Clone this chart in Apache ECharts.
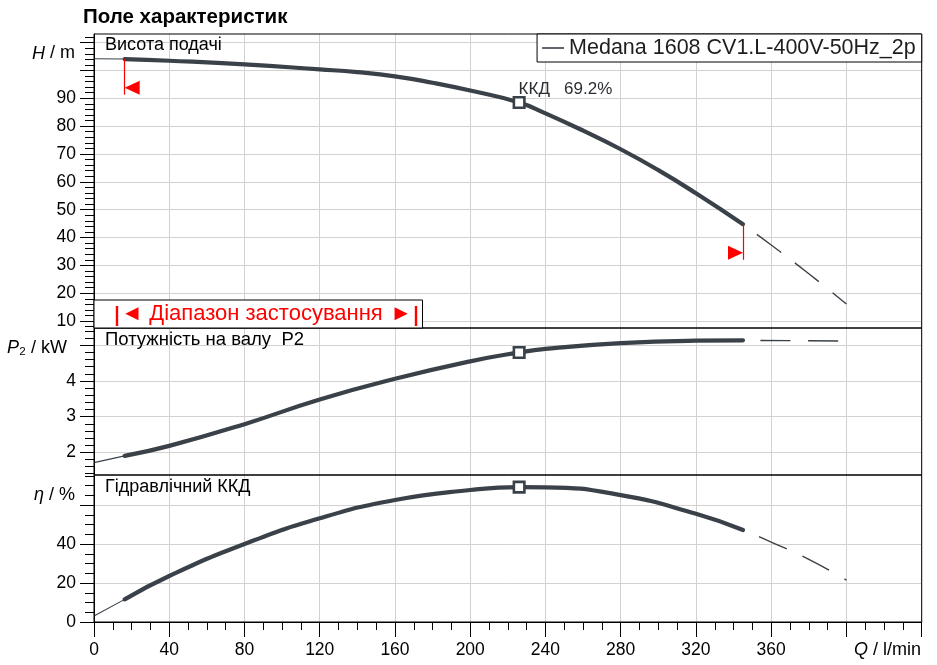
<!DOCTYPE html>
<html>
<head>
<meta charset="utf-8">
<script src="https://cdn.jsdelivr.net/npm/echarts@6/dist/echarts.min.js"></script>
<style>
html,body{margin:0;padding:0;background:#fff;}
#chart{width:937px;height:665px;}
</style>
</head>
<body>
<div id="chart"></div>
<script>
// ---------------- data ----------------
const chartTitle = 'Поле характеристик';
const pumpName = 'Medana 1608 CV1.L-400V-50Hz_2p';
const panelTitles = ['Висота подачі', 'Потужність на валу  P2', 'Гідравлічний ККД'];
const rangeText = 'Діапазон застосування';

// Q-H (head, m) – solid part = application range
const headQ = [16.3, 40, 80, 120, 140, 160, 180, 200, 226, 240, 260, 280, 300, 320, 345];
const headH = [104.1, 103.5, 102.2, 100.4, 99.4, 97.9, 95.6, 92.8, 88.5, 84.6, 78.4, 71.7, 64.2, 55.9, 44.8];
const headLowQ = [0, 16.3];
const headLowH = [104.2, 104.1];
const headHighQ = [345, 360, 380, 400];
const headHighH = [44.8, 37.3, 27.0, 16.1];

// Q-P2 (shaft power, kW)
const powerQ = [16.3, 40, 80, 120, 160, 200, 226, 240, 280, 320, 345];
const powerP = [1.90, 2.18, 2.79, 3.48, 4.06, 4.55, 4.80, 4.90, 5.06, 5.13, 5.14];
const powerLowQ = [0, 16.3];
const powerLowP = [1.71, 1.90];
const powerHighQ = [345, 370, 400];
const powerHighP = [5.14, 5.13, 5.12];

// Q-eta (hydraulic efficiency, %)
const effQ = [16.3, 40, 80, 120, 160, 200, 226, 240, 280, 320, 345];
const effE = [11.6, 23.6, 40.0, 53.2, 62.6, 67.7, 69.2, 69.1, 65.1, 55.5, 47.2];
const effLowQ = [0, 16.3];
const effLowE = [3.1, 11.6];
const effHighQ = [345, 360, 380, 400];
const effHighE = [47.2, 41.0, 32.1, 21.5];

// best efficiency point
const bepQ = 226;
const bepH = 88.5;
const bepP = 4.80;
const bepE = 69.2;

// application range limits (Q)
const rangeQ = [16.3, 345];

// axes
const qRange = [0, 440];
const qInterval = 40;
const qLabelMax = 360;
const hRange = [7.5, 113.1];
const hTicks = [10, 20, 30, 40, 50, 60, 70, 80, 90, 100, 110];
const hLabels = [10, 20, 30, 40, 50, 60, 70, 80, 90];
const pRange = [1.364, 5.485];
const pTicks = [2, 3, 4, 5];
const pLabels = [2, 3, 4];
const eRange = [0, 75.4];
const eTicks = [0, 20, 40, 60];
const eLabels = [0, 20, 40];

// ---------------- helpers ----------------
function pairs(xs, ys) { return xs.map((x, i) => [x, ys[i]]); }
function minorList(start, end, step) {
  const out = [];
  for (let v = start; v <= end + 1e-9; v += step) out.push(Math.round(v * 1000) / 1000);
  return out;
}

const FONT = "'Liberation Sans', Arial, sans-serif";
const LINE = '#3a4149';
const GRIDC = '#d2d2d2';
const RED = '#ff0000';
const gridLeft = 94, gridRight = 15.3;
const SMOOTH = 0.5;

function xAxisFor(g, showLabels) {
  return {
    gridIndex: g, type: 'value', min: qRange[0], max: qRange[1], interval: qInterval,
    axisLine: { show: showLabels, lineStyle: { color: '#000', width: 1 } },
    axisTick: { show: showLabels, length: 15, lineStyle: { color: '#000' } },
    minorTick: { show: showLabels, splitNumber: 4, length: 8, lineStyle: { color: '#000' } },
    axisLabel: {
      show: showLabels, margin: 19, fontSize: 17.5, color: '#000', fontFamily: FONT,
      formatter: v => (v <= qLabelMax ? String(v) : '')
    },
    splitLine: { show: true, lineStyle: { color: GRIDC, width: 1 } }
  };
}
function yAxesFor(g, range, ticks, labels, minors) {
  return [
    {
      gridIndex: g, type: 'value', position: 'left', min: range[0], max: range[1],
      axisLine: { show: true, lineStyle: { color: '#000', width: 1 } },
      axisTick: { show: true, customValues: ticks, length: 14, lineStyle: { color: '#000' } },
      axisLabel: { customValues: labels, margin: 18, fontSize: 17.5, color: '#000', fontFamily: FONT },
      splitLine: { show: true, lineStyle: { color: GRIDC, width: 1 } }
    },
    {
      gridIndex: g, type: 'value', position: 'left', min: range[0], max: range[1],
      axisLine: { show: false },
      axisTick: { show: true, customValues: minors, length: 9, lineStyle: { color: '#000' } },
      axisLabel: { show: false },
      splitLine: { show: false }
    }
  ];
}

function solid(name, g, yi, data) {
  return {
    name: name, type: 'line', xAxisIndex: g, yAxisIndex: yi, data: data,
    showSymbol: false, symbol: 'none', smooth: SMOOTH,
    lineStyle: { color: LINE, width: 4.2, cap: 'round' }, itemStyle: { color: LINE },
    z: 3, silent: true
  };
}
function thin(g, yi, data) {
  return {
    type: 'line', xAxisIndex: g, yAxisIndex: yi, data: data, showSymbol: false, symbol: 'none',
    lineStyle: { color: LINE, width: 1.1 }, z: 3, silent: true
  };
}
function dashed(g, yi, data) {
  return {
    type: 'line', xAxisIndex: g, yAxisIndex: yi, data: data, showSymbol: false, symbol: 'none',
    smooth: SMOOTH,
    lineStyle: { color: LINE, width: 1.4, type: [30, 17.5], dashOffset: 30 }, z: 3, silent: true
  };
}
function bep(g, yi, y, label) {
  return {
    type: 'scatter', xAxisIndex: g, yAxisIndex: yi, data: [[bepQ, y]],
    symbol: 'rect', symbolSize: 10.5, z: 4, silent: true,
    itemStyle: { color: '#ffffff', borderColor: LINE, borderWidth: 2.6, opacity: 1 },
    label: label ? {
      show: true, formatter: label, position: [6, -6.5], align: 'left', verticalAlign: 'middle',
      fontSize: 17, color: '#2a2e33', fontFamily: FONT
    } : { show: false }
  };
}

const hStart = headH[0], hEnd = headH[headH.length - 1];
const markDrop = 12.8; // marker line length below the curve, in m

const mainH = solid(pumpName, 0, 0, pairs(headQ, headH));
mainH.markLine = {
  silent: true, symbol: ['none', 'none'], animation: false,
  label: { show: false },
  lineStyle: { color: RED, width: 1.2, type: 'solid' },
  data: [
    [{ coord: [rangeQ[0], hStart] }, { coord: [rangeQ[0], hStart - markDrop] }],
    [{ coord: [rangeQ[1], hEnd] }, { coord: [rangeQ[1], hEnd - markDrop] }]
  ]
};
mainH.markPoint = {
  silent: true, animation: false, label: { show: false },
  itemStyle: { color: RED },
  data: [
    { coord: [rangeQ[0], hStart - markDrop], symbol: 'path://M10,0L0,5L10,10Z', symbolSize: [15, 14], symbolOffset: [7.5, -7] },
    { coord: [rangeQ[1], hEnd - markDrop], symbol: 'path://M0,0L10,5L0,10Z', symbolSize: [15, 14], symbolOffset: [-7.5, -7] }
  ]
};

const series = [
  mainH,
  thin(0, 0, pairs(headLowQ, headLowH)),
  dashed(0, 0, pairs(headHighQ, headHighH)),
  bep(0, 0, bepH, 'ККД   ' + bepE.toFixed(1) + '%'),

  solid('P2', 1, 2, pairs(powerQ, powerP)),
  thin(1, 2, pairs(powerLowQ, powerLowP)),
  dashed(1, 2, pairs(powerHighQ, powerHighP)),
  bep(1, 2, bepP, null),

  solid('eta', 2, 4, pairs(effQ, effE)),
  thin(2, 4, pairs(effLowQ, effLowE)),
  dashed(2, 4, pairs(effHighQ, effHighE)),
  bep(2, 4, bepE, null)
];

function txt(x, y, text, opts) {
  return {
    type: 'text', x: x, y: y, z: 20, silent: true,
    style: Object.assign({ text: text, fill: '#000', font: '18px ' + FONT, align: 'left', verticalAlign: 'middle' }, opts || {})
  };
}
const italicRich = { i: { fontStyle: 'italic', fontSize: 18, fontFamily: 'Liberation Sans' } };

const graphic = [
  txt(83, 17, chartTitle, { font: 'bold 20.5px ' + FONT }),
  txt(105, 45.5, panelTitles[0]),
  txt(105, 340, panelTitles[1], { font: '18.5px ' + FONT }),
  txt(105, 487, panelTitles[2]),
  txt(75, 53.5, '{i|H} / m', { align: 'right', rich: italicRich }),
  txt(67, 348, '{i|P}₂ / kW', { align: 'right', rich: italicRich }),
  txt(75, 495, '{i|η} / %', { align: 'right', rich: italicRich }),
  txt(921, 650, '{i|Q} / l/min', { align: 'right', rich: italicRich }),
  // application range box
  { type: 'rect', z: 15, silent: true, shape: { x: 94, y: 300, width: 328.5, height: 28 }, style: { fill: '#fff', stroke: '#000', lineWidth: 1 } },
  { type: 'line', z: 16, silent: true, shape: { x1: 117, y1: 306, x2: 117, y2: 326 }, style: { stroke: RED, lineWidth: 2.4 } },
  { type: 'line', z: 16, silent: true, shape: { x1: 416, y1: 306, x2: 416, y2: 326 }, style: { stroke: RED, lineWidth: 2.4 } },
  txt(121, 313.5, '◄', { fill: RED, font: '22px ' + FONT }),
  txt(266, 313.5, rangeText, { fill: RED, font: '22px ' + FONT, align: 'center' }),
  txt(412, 313.5, '►', { fill: RED, font: '22px ' + FONT, align: 'right' })
];

const option = {
  animation: false,
  backgroundColor: '#fff',
  textStyle: { fontFamily: FONT },
  legend: {
    data: [pumpName], right: gridRight, top: 34, orient: 'horizontal',
    icon: 'rect', itemWidth: 22, itemHeight: 1.6, selectedMode: false,
    backgroundColor: '#fff', borderColor: '#000', borderWidth: 1, borderRadius: 0,
    padding: [3, 6, 3, 5], z: 10,
    textStyle: { fontSize: 21.5, color: '#1e1e1e', fontFamily: FONT }
  },
  grid: [
    { left: gridLeft, right: gridRight, top: 34, height: 294, show: true, borderColor: '#000', borderWidth: 1, backgroundColor: 'transparent', z: 5 },
    { left: gridLeft, right: gridRight, top: 328, height: 147, show: true, borderColor: '#000', borderWidth: 1, backgroundColor: 'transparent', z: 5 },
    { left: gridLeft, right: gridRight, top: 475, height: 147, show: true, borderColor: '#000', borderWidth: 1, backgroundColor: 'transparent', z: 5 }
  ],
  xAxis: [xAxisFor(0, false), xAxisFor(1, false), xAxisFor(2, true)],
  yAxis: [].concat(
    yAxesFor(0, hRange, hTicks, hLabels, minorList(8, 112, 2)),
    yAxesFor(1, pRange, pTicks, pLabels, minorList(1.4, 5.4, 0.2)),
    yAxesFor(2, eRange, eTicks, eLabels, minorList(0, 75, 5))
  ),
  series: series,
  graphic: graphic
};

const chart = echarts.init(document.getElementById('chart'), null, { renderer: 'canvas' });
chart.setOption(option);
</script>
</body>
</html>
